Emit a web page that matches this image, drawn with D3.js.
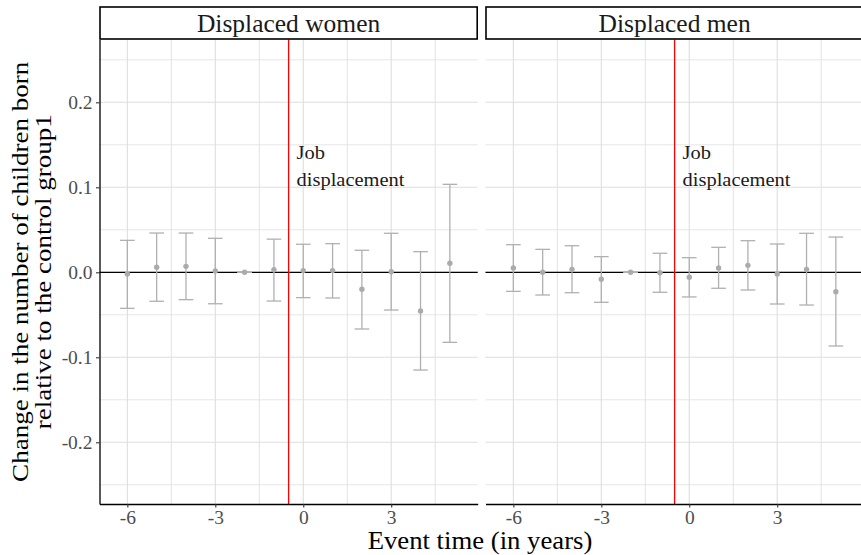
<!DOCTYPE html>
<html>
<head>
<meta charset="utf-8">
<script src="https://cdn.jsdelivr.net/npm/d3@7"></script>
<style>
  html, body { margin: 0; padding: 0; background: #fff; }
  svg text, svg tspan { font-family: "Liberation Serif", "Times New Roman", serif !important; }
</style>
</head>
<body>
<svg id="chart" width="861" height="555"></svg>
<script>
// ---------- data ----------
const eventTimes = [-6, -5, -4, -3, -2, -1, 0, 1, 2, 3, 4, 5];
const panelNames = ["Displaced women", "Displaced men"];

const womenEst = [-0.0020, 0.0060, 0.0070, 0.0015, 0.0000, 0.0030, 0.0020, 0.0020, -0.0200, 0.0007, -0.0455, 0.0106];
const womenLo  = [-0.0424, -0.0341, -0.0322, -0.0370, 0.0000, -0.0338, -0.0298, -0.0302, -0.0667, -0.0444, -0.1150, -0.0824];
const womenHi  = [0.0376, 0.0462, 0.0462, 0.0400, 0.0000, 0.0390, 0.0330, 0.0337, 0.0259, 0.0459, 0.0243, 0.1035];

const menEst = [0.0051, 0.0000, 0.0035, -0.0082, 0.0000, -0.0006, -0.0059, 0.0051, 0.0082, -0.0020, 0.0035, -0.0228];
const menLo  = [-0.0224, -0.0267, -0.0240, -0.0353, 0.0000, -0.0235, -0.0290, -0.0188, -0.0208, -0.0373, -0.0385, -0.0867];
const menHi  = [0.0325, 0.0270, 0.0313, 0.0184, 0.0000, 0.0224, 0.0172, 0.0294, 0.0372, 0.0333, 0.0459, 0.0415];

const xMajorTicks = [-6, -3, 0, 3];
const xMinorTicks = [-4.5, -1.5, 1.5, 4.5];
const yMajorTicks = [-0.2, -0.1, 0.0, 0.1, 0.2];
const yMinorTicks = [-0.25, -0.15, -0.05, 0.05, 0.15, 0.25];

const eventLine = -0.5;
const annotationLines = ["Job", "displacement"];
const annotationX = -0.23;
const annotationY = 0.133;

const xTitle = "Event time (in years)";
const yTitleLines = ["Change in the number of children born", "relative to the control group1"];

const xDomain = [-6.95, 5.95];
const yDomain = [-0.2726, 0.2739];

// ---------- layout ----------
const FONT = '"Liberation Serif", "Times New Roman", serif';
const svg = d3.select("#chart");
const panelTop = 39.5, panelBottom = 504;
const panelWidth = 378.2;
const panelLefts = [99.5, 485.5];
const stripTop = 7;

const fmt = d3.formatLocale({decimal: ".", thousands: ",", grouping: [3], currency: ["", ""], minus: "-"});
const yFmt = fmt.format(".1f");
const xFmt = fmt.format("d");

const y = d3.scaleLinear().domain(yDomain).range([panelBottom, panelTop]);

const gridColor = "#dedede";
const barColor = "#b0b0b0";
const pointColor = "#ababab";

function stretch(sel, k) {
  sel.each(function() {
    const len = this.getComputedTextLength();
    d3.select(this).attr("textLength", len * k).attr("lengthAdjust", "spacingAndGlyphs");
  });
}

const panels = [
  {name: panelNames[0], est: womenEst, lo: womenLo, hi: womenHi},
  {name: panelNames[1], est: menEst, lo: menLo, hi: menHi}
];

panels.forEach((p, i) => {
  const left = panelLefts[i];
  const x = d3.scaleLinear().domain(xDomain).range([left, left + panelWidth]);
  const g = svg.append("g");

  // grid
  g.selectAll(".hmin").data(yMinorTicks).join("line")
    .attr("x1", left).attr("x2", left + panelWidth)
    .attr("y1", d => y(d)).attr("y2", d => y(d))
    .attr("stroke", "#e6e6e6").attr("stroke-width", 1);
  g.selectAll(".hmaj").data(yMajorTicks).join("line")
    .attr("x1", left).attr("x2", left + panelWidth)
    .attr("y1", d => y(d)).attr("y2", d => y(d))
    .attr("stroke", gridColor).attr("stroke-width", 1.1);
  g.selectAll(".vmin").data(xMinorTicks).join("line")
    .attr("x1", d => x(d)).attr("x2", d => x(d))
    .attr("y1", panelTop).attr("y2", panelBottom)
    .attr("stroke", "#e2e2e2").attr("stroke-width", 1);
  g.selectAll(".vmaj").data(xMajorTicks).join("line")
    .attr("x1", d => x(d)).attr("x2", d => x(d))
    .attr("y1", panelTop).attr("y2", panelBottom)
    .attr("stroke", gridColor).attr("stroke-width", 1.1);

  // zero line
  g.append("line")
    .attr("x1", left).attr("x2", left + panelWidth)
    .attr("y1", y(0)).attr("y2", y(0))
    .attr("stroke", "#000").attr("stroke-width", 1.3);

  // error bars
  const rows = eventTimes.map((t, j) => ({t, est: p.est[j], lo: p.lo[j], hi: p.hi[j]}));
  const capHalf = 0.25;
  const eb = g.append("g").attr("stroke", barColor).attr("stroke-width", 1.3).attr("fill", "none");
  eb.selectAll(".v").data(rows).join("line")
    .attr("x1", d => x(d.t)).attr("x2", d => x(d.t))
    .attr("y1", d => y(d.lo)).attr("y2", d => y(d.hi));
  eb.selectAll(".ct").data(rows).join("line")
    .attr("x1", d => x(d.t - capHalf)).attr("x2", d => x(d.t + capHalf))
    .attr("y1", d => y(d.hi)).attr("y2", d => y(d.hi));
  eb.selectAll(".cb").data(rows).join("line")
    .attr("x1", d => x(d.t - capHalf)).attr("x2", d => x(d.t + capHalf))
    .attr("y1", d => y(d.lo)).attr("y2", d => y(d.lo));

  // points
  g.selectAll(".pt").data(rows).join("circle")
    .attr("cx", d => x(d.t)).attr("cy", d => y(d.est))
    .attr("r", 2.7).attr("fill", pointColor);

  // event line
  g.append("line")
    .attr("x1", x(eventLine)).attr("x2", x(eventLine))
    .attr("y1", panelTop).attr("y2", panelBottom)
    .attr("stroke", "#ff0000").attr("stroke-width", 1.3);

  // annotation
  annotationLines.forEach((s, k) => {
    const t = g.append("text")
      .attr("x", x(annotationX)).attr("y", y(annotationY) + k * 26.7)
      .style("font-family", FONT).attr("font-size", 19.5).attr("fill", "#1a1a1a")
      .text(s);
    stretch(t, 1.05);
  });

  // bottom axis
  const xAxis = d3.axisBottom(x).tickValues(xMajorTicks).tickFormat(xFmt).tickSizeInner(3.5).tickSizeOuter(0).tickPadding(2.5);
  const xa = g.append("g").attr("transform", `translate(0,${panelBottom})`).call(xAxis)
    .attr("font-family", null);
  xa.select(".domain").attr("stroke", "#000").attr("stroke-width", 1.3);
  xa.selectAll(".tick line").attr("stroke", "#333").attr("stroke-width", 1.1);
  xa.selectAll(".tick text").attr("font-size", 19.5).attr("fill", "#4d4d4d")
    .style("font-family", FONT);

  // left axis only on first panel
  if (i === 0) {
    const yAxis = d3.axisLeft(y).tickValues(yMajorTicks).tickFormat(yFmt).tickSizeInner(3.5).tickSizeOuter(0).tickPadding(3.5);
    const ya = g.append("g").attr("transform", `translate(${left},0)`).call(yAxis)
      .attr("font-family", null);
    ya.select(".domain").attr("stroke", "#000").attr("stroke-width", 1.3);
    ya.selectAll(".tick line").attr("stroke", "#333").attr("stroke-width", 1.1);
    ya.selectAll(".tick text").attr("font-size", 19.5).attr("fill", "#4d4d4d")
      .style("font-family", FONT);
  }

  // strip
  g.append("rect")
    .attr("x", left + 0.5).attr("y", stripTop)
    .attr("width", panelWidth - 1).attr("height", panelTop - stripTop - 0.5)
    .attr("fill", "#fff").attr("stroke", "#000").attr("stroke-width", 1.6);
  const st = g.append("text")
    .attr("x", left + panelWidth / 2).attr("y", 31.5)
    .attr("text-anchor", "middle").style("font-family", FONT).attr("font-size", 24.5).attr("fill", "#1a1a1a")
    .text(p.name);
  stretch(st, 1.04);
});

// axis titles
const xt = svg.append("text")
  .attr("x", 480).attr("y", 549)
  .attr("text-anchor", "middle").style("font-family", FONT).attr("font-size", 24.5).attr("fill", "#000")
  .text(xTitle);
stretch(xt, 1.09);

const cy = (panelTop + panelBottom) / 2;
const yBaselines = [27.5, 51];
yTitleLines.forEach((s, k) => {
  const t = svg.append("text")
    .attr("transform", `translate(${yBaselines[k]},${cy}) rotate(-90)`)
    .attr("text-anchor", "middle").style("font-family", FONT).attr("font-size", 23.5).attr("fill", "#000")
    .text(s);
  stretch(t, 1.15);
});
</script>
</body>
</html>
